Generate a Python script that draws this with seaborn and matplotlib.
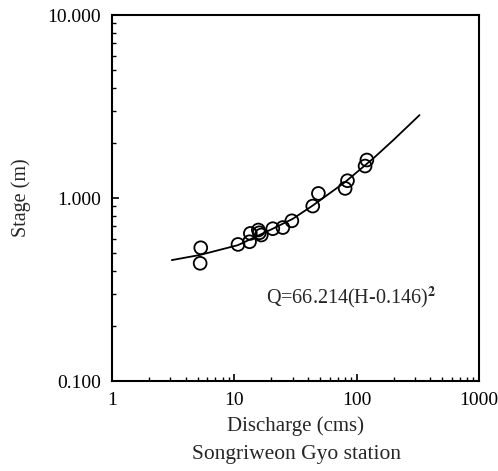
import numpy as np
import pandas as pd
import seaborn as sns
from matplotlib import pyplot as plt
from matplotlib.ticker import FixedLocator, LogLocator, NullFormatter

# observed discharge (cms) / stage (m)
discharge = [5.31, 5.25, 10.7, 13.3, 13.5, 15.7, 16.0, 16.6, 20.6, 24.9,
             29.5, 43.7, 48.6, 80.4, 84.0, 117.0, 121.0]
stage = [0.535, 0.44, 0.558, 0.577, 0.641, 0.669, 0.646, 0.628, 0.68, 0.69,
         0.751, 0.904, 1.06, 1.129, 1.244, 1.496, 1.614]

# rating curve
curve_q = [3.08, 5.25, 10.7, 20.6, 30.0, 43.7, 80.0, 137.0, 200.0, 326.0]
curve_h = [0.458, 0.489, 0.553, 0.68, 0.77, 0.91, 1.22, 1.65, 2.08, 2.84]

x_ticks = [1, 10, 100, 1000]
x_labels = ['1', '10', '100', '1000']
y_ticks = [0.1, 1, 10]
y_labels = ['0.100', '1.000', '10.000']

sns.set_style('ticks')
plt.rcParams['font.family'] = ['Liberation Serif', 'DejaVu Serif']
plt.rcParams['mathtext.fontset'] = 'stix'

obs = pd.DataFrame({'Q': discharge, 'H': stage})
fit = pd.DataFrame({'Q': curve_q, 'H': curve_h})

fig = plt.figure(figsize=(4.98, 4.71), dpi=100)
ax = fig.add_axes([0.225, 0.191, 0.737, 0.777])

sns.lineplot(data=fit, x='Q', y='H', ax=ax, color='black', linewidth=1.3,
             estimator=None, sort=False)
sns.scatterplot(data=obs, x='Q', y='H', ax=ax, s=85, facecolor='none',
                edgecolor='black', linewidth=1.3, zorder=3)

ax.set_xscale('log')
ax.set_yscale('log')
ax.set_xlim(1, 1000)
ax.set_ylim(0.1, 10)

ax.xaxis.set_major_locator(FixedLocator(x_ticks))
ax.set_xticklabels(x_labels)
ax.yaxis.set_major_locator(FixedLocator(y_ticks))
ax.set_yticklabels(y_labels)
ax.xaxis.set_minor_locator(LogLocator(base=10, subs=np.arange(2, 10)))
ax.yaxis.set_minor_locator(LogLocator(base=10, subs=np.arange(2, 10)))
ax.xaxis.set_minor_formatter(NullFormatter())
ax.yaxis.set_minor_formatter(NullFormatter())

ax.tick_params(which='both', direction='in', top=False, right=False,
               labelsize=14, colors='black')
ax.tick_params(which='major', length=5, width=1.2, pad=8)
ax.tick_params(which='minor', length=3, width=1.0)
for sp in ax.spines.values():
    sp.set_linewidth(1.5)
    sp.set_color('black')
    sp.set_visible(True)

ax.set_xlabel('Discharge (cms)', fontsize=15, labelpad=5)
ax.set_ylabel('Stage (m)', fontsize=14.5, labelpad=12)
ax.text(18.0, 0.288, 'Q=66.214(H-0.146)$^{\\mathbf{2}}$', fontsize=14.5,
        va='center', ha='left')
fig.text(0.596, 0.034, 'Songriweon Gyo station', fontsize=15.5,
         ha='center', va='center')

fig.savefig('out.png', dpi=100)
